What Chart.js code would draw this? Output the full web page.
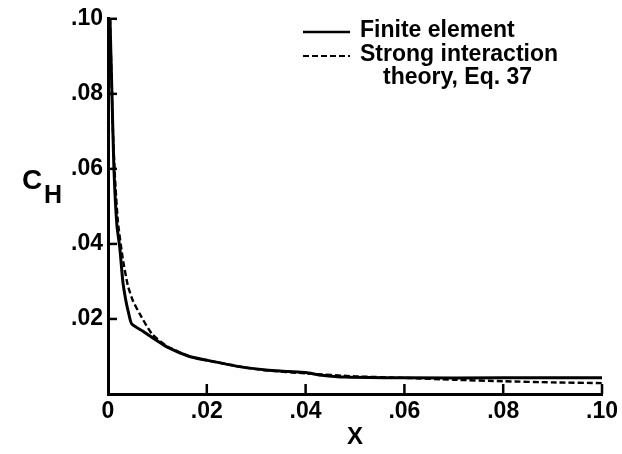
<!DOCTYPE html>
<html>
<head>
<meta charset="utf-8">
<script src="https://cdn.jsdelivr.net/npm/chart.js@4.4.1/dist/chart.umd.min.js"></script>
<style>
  html, body { margin: 0; padding: 0; background: #fff; }
  #wrap { width: 622px; height: 454px; }
</style>
</head>
<body>
<div id="wrap"><canvas id="myChart" width="622" height="454"></canvas></div>
<script>
// Finite element solution
var feX = [0.0004, 0.0008, 0.0012, 0.0018, 0.0024, 0.0030, 0.0036, 0.0042, 0.0048, 0.0070, 0.0090, 0.0120, 0.0165, 0.0200, 0.0266, 0.0320, 0.0366, 0.0400, 0.0433, 0.0480, 0.0600, 0.0800, 0.1000];
var feY = [0.100, 0.080, 0.060, 0.045, 0.0388, 0.030, 0.025, 0.0214, 0.0187, 0.0168, 0.0150, 0.0125, 0.0100, 0.0090, 0.0073, 0.0064, 0.0060, 0.0057, 0.0050, 0.0045, 0.0043, 0.0043, 0.0043];

// Strong interaction theory, Eq. 37
var sitX = [0.0004, 0.0007, 0.0010, 0.0014, 0.0020, 0.0030, 0.0040, 0.0050, 0.0064, 0.0089, 0.0120, 0.0165, 0.0200, 0.0266, 0.0320, 0.0400, 0.0500, 0.0600, 0.0700, 0.0800, 0.0900, 0.1000];
var sitY = [0.100, 0.085, 0.070, 0.058, 0.046, 0.036, 0.029, 0.025, 0.0214, 0.0160, 0.0127, 0.0100, 0.0090, 0.0073, 0.0063, 0.0055, 0.0047, 0.0043, 0.0038, 0.0034, 0.0031, 0.0029];

var xTickLabels = ['0', '.02', '.04', '.06', '.08', '.10'];
var yTickLabels = ['', '.02', '.04', '.06', '.08', '.10'];

var seriesNames = ['Finite element', 'Strong interaction', 'theory, Eq. 37'];

function toPoints(xs, ys) {
    var pts = [];
    for (var i = 0; i < xs.length; i++) pts.push({ x: xs[i], y: ys[i] });
    return pts;
}

var FONT = '"Liberation Sans", Arial, sans-serif';

// inward tick marks, y-axis title and the legend box
var decor = {
    id: 'decor',
    afterDraw: function (chart) {
        var ctx = chart.ctx;
        var xs = chart.scales.x, ys = chart.scales.y;
        var a = chart.chartArea;
        ctx.save();
        ctx.strokeStyle = '#000';
        ctx.lineWidth = 2.5;
        xs.ticks.forEach(function (t) {
            if (t.value === 0) return;
            var px = xs.getPixelForValue(t.value);
            ctx.beginPath();
            ctx.moveTo(px, a.bottom);
            ctx.lineTo(px, a.bottom - 10);
            ctx.stroke();
        });
        ys.ticks.forEach(function (t) {
            if (t.value === 0) return;
            var py = ys.getPixelForValue(t.value);
            ctx.beginPath();
            ctx.moveTo(a.left, py);
            ctx.lineTo(a.left + 9, py);
            ctx.stroke();
        });

        // C_H
        ctx.fillStyle = '#000';
        ctx.textBaseline = 'middle';
        ctx.textAlign = 'left';
        ctx.font = 'bold 28px ' + FONT;
        ctx.fillText('C', 22, 181);
        ctx.font = 'bold 25px ' + FONT;
        ctx.fillText('H', 44, 196);

        // legend
        ctx.font = 'bold 23px ' + FONT;
        ctx.lineWidth = 2.5;
        ctx.beginPath();
        ctx.moveTo(303, 32);
        ctx.lineTo(350, 32);
        ctx.stroke();
        ctx.setLineDash([6, 3]);
        ctx.lineWidth = 2.2;
        ctx.beginPath();
        ctx.moveTo(303, 56);
        ctx.lineTo(350, 56);
        ctx.stroke();
        ctx.setLineDash([]);
        ctx.fillText(seriesNames[0], 360, 31);
        ctx.fillText(seriesNames[1], 360, 55);
        ctx.fillText(seriesNames[2], 383, 78);
        ctx.restore();
    }
};

window.onload = function () {

    var ctx = document.getElementById('myChart').getContext('2d');

    var myChart = new Chart(ctx, {
        type: 'scatter',
        data: {
            datasets: [{
                label: seriesNames[0],
                data: toPoints(feX, feY),
                showLine: true,
                borderColor: '#000',
                borderWidth: 3,
                pointRadius: 0,
                tension: 0.2
            },
            {
                label: seriesNames[1] + ' ' + seriesNames[2],
                data: toPoints(sitX, sitY),
                showLine: true,
                borderColor: '#000',
                borderWidth: 2.4,
                borderDash: [6, 3],
                pointRadius: 0,
                tension: 0.2
            }]
        },
        options: {
            responsive: false,
            animation: false,
            layout: { padding: { left: 0, top: 15, right: 17, bottom: 0 } },
            plugins: {
                legend: { display: false },
                tooltip: { enabled: false }
            },
            scales: {
                x: {
                    type: 'linear',
                    min: 0,
                    max: 0.1,
                    border: { display: true, color: '#000', width: 3 },
                    grid: { display: false, drawTicks: false },
                    ticks: {
                        stepSize: 0.02,
                        color: '#000',
                        padding: 4,
                        maxRotation: 0,
                        font: { family: FONT, size: 23, weight: 'bold' },
                        callback: function (v) { return xTickLabels[Math.round(v / 0.02)]; }
                    },
                    title: {
                        display: true,
                        text: 'X',
                        color: '#000',
                        font: { family: FONT, size: 24, weight: 'bold' },
                        padding: { top: 0, bottom: 2 }
                    },
                    afterFit: function (scale) { scale.height = 60; }
                },
                y: {
                    type: 'linear',
                    min: 0,
                    max: 0.1,
                    border: { display: true, color: '#000', width: 3 },
                    grid: { display: false, drawTicks: false },
                    ticks: {
                        stepSize: 0.02,
                        color: '#000',
                        padding: 5,
                        font: { family: FONT, size: 23, weight: 'bold' },
                        callback: function (v) { return yTickLabels[Math.round(v / 0.02)]; }
                    },
                    afterFit: function (scale) { scale.width = 108; }
                }
            }
        },
        plugins: [decor]
    });
}
</script>
</body>
</html>
